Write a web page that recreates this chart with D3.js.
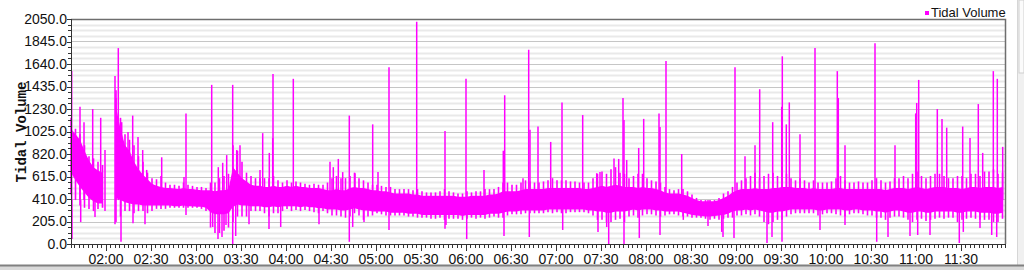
<!DOCTYPE html>
<html>
<head>
<meta charset="utf-8">
<script src="https://cdn.jsdelivr.net/npm/d3@7"></script>
<style>
  body { margin: 0; background: #fff; overflow: hidden; }
  svg { display: block; }
  .axis text { font-family: "Liberation Sans", Arial, sans-serif; font-size: 14px; fill: #111; }
  .axis path, .axis line { stroke: #333; shape-rendering: crispEdges; }
</style>
</head>
<body>
<div id="chart"></div>
<script>

// ---- data ----
var seriesName = "Tidal Volume";
var yTicks = [0, 205, 410, 615, 820, 1025, 1230, 1435, 1640, 1845, 2050];
var xTickLabels = ["02:00", "02:30", "03:00", "03:30", "04:00", "04:30", "05:00", "05:30", "06:00", "06:30",
    "07:00", "07:30", "08:00", "08:30", "09:00", "09:30", "10:00", "10:30", "11:00", "11:30"];
var axisStart = "01:37:00", axisEnd = "11:59:40";

// dense band, one sample every 3 minutes from 01:37 (null = no data)
var sampleStart = "01:37:00", sampleStepSec = 180;
var coreLo = [650,580,520,470,420,390,370,370,null,null,
    420,400,380,370,360,360,350,350,350,350,350,350,350,345,345,350,345,345,340,340,
    330,290,270,270,270,280,340,360,350,350,345,345,345,335,335,345,335,345,345,345,
    345,335,345,335,335,325,325,315,315,315,305,305,315,325,315,305,305,295,295,295,
    295,285,285,285,285,275,275,275,265,265,265,265,265,265,265,265,265,255,265,265,
    265,265,265,275,275,275,285,295,295,295,305,305,305,305,305,305,315,315,315,315,
    315,315,315,315,315,305,305,295,295,285,285,295,295,295,305,315,305,315,315,315,
    305,305,295,295,295,295,285,275,265,260,255,250,250,255,260,265,275,295,305,305,
    315,305,315,305,295,285,285,295,295,305,315,315,315,315,315,315,305,305,315,315,
    315,315,305,305,315,315,305,305,305,295,295,285,295,305,305,295,285,285,295,295,
    285,285,295,295,295,295,295,285,285,295,295,295,285,285,285,275,275,285];
var coreHi = [1050,1000,950,850,760,700,670,650,null,null,
    1250,1050,900,850,750,680,630,590,550,530,520,510,510,505,500,510,500,500,495,490,
    490,490,480,490,490,500,700,650,600,570,540,530,530,520,520,530,520,520,530,520,
    530,520,520,510,510,510,500,490,490,500,490,490,510,520,510,510,500,490,490,480,
    480,470,460,460,460,460,450,450,440,440,440,440,440,440,440,440,430,430,430,440,
    440,440,440,450,450,460,480,480,480,480,490,500,500,500,500,500,510,510,510,510,
    510,510,510,510,500,500,510,520,530,520,530,540,530,520,520,520,510,520,510,510,
    500,490,470,460,460,460,450,440,420,400,390,390,390,390,400,420,440,470,490,500,
    500,500,510,500,500,500,510,510,520,520,520,510,510,510,500,510,500,500,500,500,
    510,510,500,500,500,500,500,500,500,500,500,490,500,510,510,510,500,510,520,510,
    500,510,520,520,520,510,510,510,500,510,520,520,510,520,520,520,510,520];
var envLo = [450,400,350,330,320,300,320,330,null,null,
    200,250,300,300,280,300,300,280,300,320,320,320,330,330,330,330,330,330,330,320,
    300,150,100,100,120,150,200,250,250,250,300,300,300,280,250,280,280,300,320,300,
    310,300,310,300,290,280,300,280,260,260,250,240,250,280,260,220,250,260,280,270,
    260,260,260,260,260,250,250,240,240,240,230,230,240,220,230,230,230,220,230,240,
    230,240,230,240,250,240,240,260,270,270,270,280,280,280,280,280,290,280,290,280,
    280,290,290,290,290,280,260,220,220,200,200,220,230,200,250,260,240,260,270,270,
    260,250,260,270,270,260,250,250,240,240,240,230,220,230,220,230,240,240,260,260,
    270,260,270,250,200,180,200,220,220,250,270,280,280,280,280,280,260,270,280,280,
    270,260,250,270,280,280,270,260,260,240,240,220,240,250,250,240,220,200,220,230,
    210,220,230,240,230,240,240,200,220,230,240,230,220,220,220,200,200,230];
var envHi = [1150,1050,1000,900,800,780,750,720,null,null,
    1400,1150,1000,950,900,800,750,650,600,590,620,560,540,540,530,560,540,530,520,520,
    510,560,560,600,620,640,900,850,750,650,620,600,600,600,600,620,580,560,580,560,
    570,560,550,540,550,540,540,560,600,620,600,600,620,650,600,580,560,540,540,530,
    520,520,500,500,500,500,490,500,480,470,470,470,480,500,480,470,460,460,480,470,
    480,480,500,500,500,520,560,560,540,540,560,580,570,560,560,570,580,600,580,580,
    580,570,570,560,560,560,600,640,660,640,680,700,650,640,600,620,640,640,600,580,
    570,560,520,500,490,500,500,480,450,420,400,400,400,400,420,460,480,520,560,580,
    600,620,650,600,620,640,650,620,660,640,600,580,600,580,560,580,560,560,560,570,
    600,620,580,560,560,570,560,560,580,600,580,560,570,600,600,620,600,640,660,620,
    600,620,640,640,620,600,600,620,620,600,640,640,620,660,660,680,640,650];

// tall upward spikes
var spikeTimes = ["01:37:28","01:43:00","01:45:40","01:51:28","01:56:48","01:59:40","02:06:20","02:07:00","02:08:32","02:10:48",
    "02:15:00","02:18:08","02:21:40","02:24:48","02:27:28","02:37:28","02:52:20","02:53:40","03:10:48","03:15:12",
    "03:18:08","03:20:48","03:24:48","03:27:28","03:29:40","03:43:00","03:44:48","03:49:12","03:51:28","03:51:40",
    "04:05:12","04:29:40","04:31:52","04:35:12","04:38:08","04:42:32","04:46:20","04:58:08","05:01:40","05:09:00",
    "05:27:28","05:46:20","06:00:20","06:12:20","06:25:12","06:26:08","06:38:20","06:42:08","06:43:00","06:48:20",
    "06:56:48","07:04:20","07:18:08","07:27:28","07:29:40","07:39:00","07:42:08","07:45:00","07:45:40","07:47:28",
    "07:55:28","07:58:48","08:09:00","08:09:40","08:13:40","08:24:08","08:59:40","09:06:20","09:13:00","09:16:08",
    "09:24:48","09:30:48","09:31:12","09:33:52","09:35:52","09:43:00","09:53:00","10:07:52","10:08:32","10:13:00",
    "10:33:00","10:46:20","11:00:08","11:00:48","11:02:08","11:14:32","11:17:40","11:20:48","11:31:28","11:36:20",
    "11:41:52","11:44:48","11:51:52","11:54:32","11:58:08"];
var spikeValues = [1576,1250,1110,1230,1150,856,1530,1330,1785,1110,
    1020,1170,975,856,675,790,610,1190,1450,700,
    740,810,1450,856,900,675,1010,830,965,1550,
    1505,750,700,775,655,1170,645,1090,655,1610,
    2025,1030,1505,675,850,1355,600,1770,1040,1070,
    930,1290,1175,645,655,780,775,1330,1130,765,
    875,1140,1190,1065,1667,820,1610,800,900,1410,
    1110,1250,1710,1090,1290,1000,1785,1575,1330,900,
    1830,900,1190,1285,1495,1230,1140,1060,1070,965,
    1275,830,1575,1505,885];

// downward dips
var dipTimes = ["01:37:40","01:43:28","01:53:00","01:59:40","02:06:20","02:10:20","02:18:20","02:26:20","02:53:40","03:11:28",
    "03:15:00","03:17:40","03:20:20","03:24:48","03:26:48","03:35:40","03:49:00","03:56:48","04:22:20","04:42:32",
    "04:44:48","04:52:20","05:09:00","05:46:20","05:47:00","06:00:48","06:25:40","06:42:32","07:04:48","07:28:20",
    "07:34:08","07:35:28","07:45:40","07:55:52","08:09:40","08:25:12","08:41:40","08:50:48","08:51:40","08:59:00",
    "09:21:00","09:24:20","09:31:00","09:56:20","10:13:00","10:34:08","10:41:40","10:56:20","11:01:28","11:09:40",
    "11:29:12","11:31:52","11:43:00","11:50:48","11:54:08"];
var dipValues = [45,200,245,300,180,20,190,180,265,155,
    45,64,173,0,73,180,137,155,180,20,
    155,200,128,140,173,45,73,64,128,110,
    155,0,0,55,82,220,164,110,64,55,
    9,64,20,128,173,20,64,73,82,82,
    9,110,146,82,64];

// ---- layout ----
var margins = { top: 19, right: 19, bottom: 26, left: 71 },
    outerWidth = 1024, outerHeight = 270,
    width = outerWidth - margins.left - margins.right,
    height = outerHeight - margins.top - margins.bottom,
    colour = "#ff00ff",
    spikeBase = 400;

var parseT = d3.timeParse("%H:%M:%S"),
    parseHM = d3.timeParse("%H:%M");

var x = d3.scaleTime().domain([parseT(axisStart), parseT(axisEnd)]).range([0, width]);
var y = d3.scaleLinear().domain([0, 2050]).range([height, 0]);

var t0 = parseT(sampleStart);
var sampleTime = function(i) { return d3.timeSecond.offset(t0, i * sampleStepSec); };
var samples = coreLo.map(function(d, i) {
    return { t: sampleTime(i), lo: d, hi: coreHi[i], elo: envLo[i], ehi: envHi[i] };
});

var svg = d3.select("#chart").append("svg")
    .attr("width", outerWidth)
    .attr("height", outerHeight);

// window chrome: scrollbar on the right, frame at the bottom
svg.append("rect").attr("x", 1017).attr("y", 0).attr("width", 7).attr("height", 265).attr("fill", "#f0f0f0");
svg.append("line").attr("x1", 1017.5).attr("x2", 1017.5).attr("y1", 0).attr("y2", 265).attr("stroke", "#d6d6d6");
svg.append("rect").attr("x", 1019).attr("y", 0).attr("width", 5).attr("height", 73).attr("fill", "#fbfbfb")
    .attr("stroke", "#cfcfcf");
svg.append("rect").attr("x", 0).attr("y", 265).attr("width", outerWidth).attr("height", 5).attr("fill", "#d9d9d9");
svg.append("line").attr("x1", 0).attr("x2", outerWidth).attr("y1", 265.5).attr("y2", 265.5)
    .attr("stroke", "#808080").attr("stroke-width", 2);

var g = svg.append("g").attr("transform", "translate(" + margins.left + "," + margins.top + ")");

// grid: light lines every quarter step, darker on labelled values
var minorY = d3.range(0, 2050.01, 51.25).filter(function(v) { return yTicks.indexOf(v) < 0; });
g.selectAll(".grid-minor").data(minorY).enter().append("line")
    .attr("x1", 0).attr("x2", width)
    .attr("y1", function(d) { return Math.round(y(d)) + 0.5; })
    .attr("y2", function(d) { return Math.round(y(d)) + 0.5; })
    .attr("stroke", "#e9e9e9").attr("stroke-width", 2);
g.selectAll(".grid-major").data(yTicks.slice(1, -1)).enter().append("line")
    .attr("x1", 0).attr("x2", width)
    .attr("y1", function(d) { return Math.round(y(d)) + 0.5; })
    .attr("y2", function(d) { return Math.round(y(d)) + 0.5; })
    .attr("stroke", "#c6c6c6").attr("stroke-width", 1);

// the trace
var plot = g.append("g");

var band = d3.area()
    .defined(function(d) { return d.lo !== null; })
    .x(function(d) { return x(d.t); })
    .y0(function(d) { return y(d.lo); })
    .y1(function(d) { return y(d.hi); });

plot.append("path").datum(samples).attr("d", band).attr("fill", colour);

plot.selectAll(".env").data(samples.filter(function(d) { return d.elo !== null; })).enter().append("line")
    .attr("x1", function(d) { return x(d.t); }).attr("x2", function(d) { return x(d.t); })
    .attr("y1", function(d) { return y(d.elo); }).attr("y2", function(d) { return y(d.ehi); })
    .attr("stroke", colour).attr("stroke-width", 1.6);

plot.selectAll(".spike").data(spikeTimes).enter().append("line")
    .attr("x1", function(d) { return x(parseT(d)); }).attr("x2", function(d) { return x(parseT(d)); })
    .attr("y1", y(spikeBase)).attr("y2", function(d, i) { return y(spikeValues[i]); })
    .attr("stroke", colour).attr("stroke-width", 1.5);

plot.selectAll(".dip").data(dipTimes).enter().append("line")
    .attr("x1", function(d) { return x(parseT(d)); }).attr("x2", function(d) { return x(parseT(d)); })
    .attr("y1", y(spikeBase)).attr("y2", function(d, i) { return y(dipValues[i]); })
    .attr("stroke", colour).attr("stroke-width", 1.5);

// frame top / right
g.append("path")
    .attr("d", "M0,0.5H" + (width + 0.5) + "V" + height)
    .attr("fill", "none").attr("stroke", "#6e6e6e").attr("stroke-width", 1.5);

// axes
g.append("g").attr("class", "axis")
    .call(d3.axisLeft(y).tickValues(yTicks).tickFormat(d3.format(".1f")).tickSize(4).tickPadding(0));
g.append("g").attr("class", "axis")
    .call(d3.axisLeft(y).tickValues(minorY).tickFormat("").tickSize(3))
    .select(".domain").remove();

var majorX = xTickLabels.map(function(s) { return parseHM(s); });
var minorX = d3.timeMinute.every(3).range(x.domain()[0], x.domain()[1]);
g.append("g").attr("class", "axis").attr("transform", "translate(0," + height + ")")
    .call(d3.axisBottom(x).tickValues(minorX).tickFormat("").tickSize(4));
g.append("g").attr("class", "axis").attr("transform", "translate(0," + height + ")")
    .call(d3.axisBottom(x).tickValues(majorX).tickFormat(d3.timeFormat("%H:%M")).tickSize(7).tickPadding(3))
    .select(".domain").remove();

// y title
g.append("text")
    .attr("transform", "rotate(-90)")
    .attr("x", -113)
    .attr("y", -49)
    .attr("text-anchor", "middle")
    .attr("dominant-baseline", "central")
    .style("font-family", "'Liberation Mono', 'DejaVu Sans Mono', monospace")
    .style("font-size", "14px")
    .style("font-weight", "bold")
    .attr("fill", "#111")
    .text(seriesName);

// legend
svg.append("rect").attr("x", 925).attr("y", 11).attr("width", 4).attr("height", 4).attr("fill", colour);
svg.append("text")
    .attr("x", 931).attr("y", 17)
    .style("font-family", "'Liberation Sans', Arial, sans-serif")
    .style("font-size", "13px")
    .attr("fill", "#111")
    .text(seriesName);

</script>
</body>
</html>
